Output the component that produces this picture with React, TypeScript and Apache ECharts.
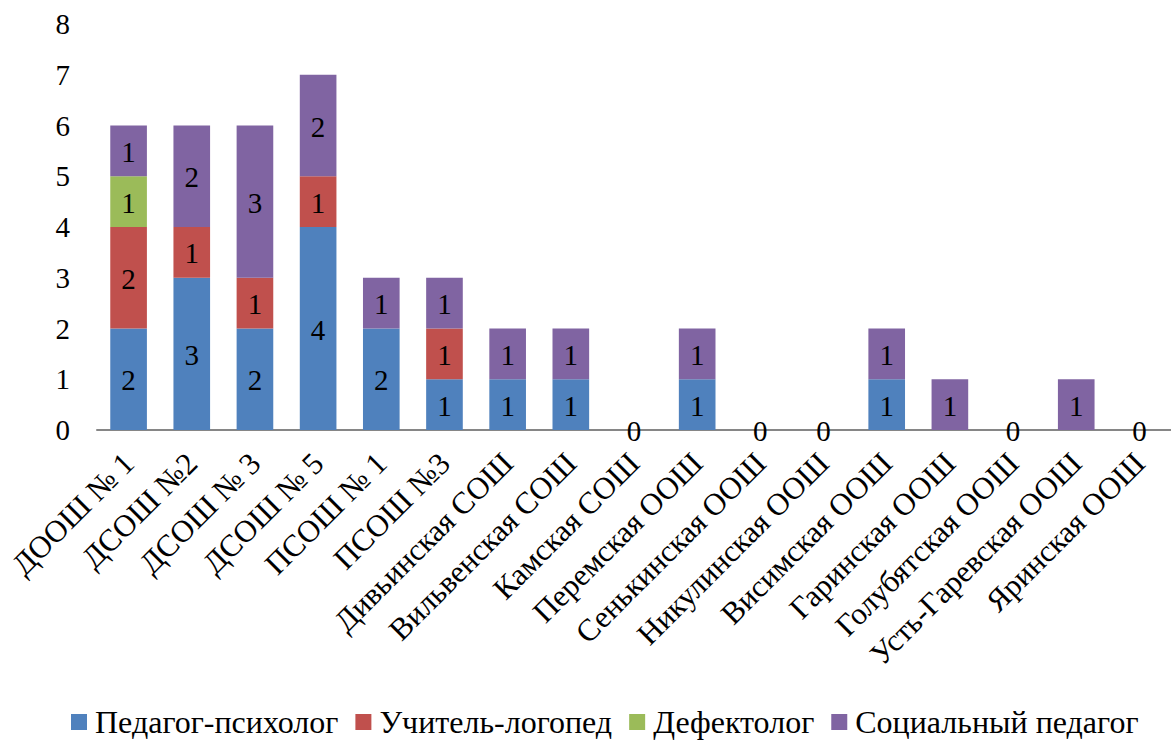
import React, { useEffect, useRef } from "react";
import * as echarts from "echarts";

const categories = [
  "ДООШ № 1",
  "ДСОШ №2",
  "ДСОШ № 3",
  "ДСОШ № 5",
  "ПСОШ № 1",
  "ПСОШ №3",
  "Дивьинская СОШ",
  "Вильвенская СОШ",
  "Камская СОШ",
  "Перемская ООШ",
  "Сенькинская ООШ",
  "Никулинская ООШ",
  "Висимская ООШ",
  "Гаринская ООШ",
  "Голубятская ООШ",
  "Усть-Гаревская ООШ",
  "Яринская ООШ",
];

const psychologist = [2, 3, 2, 4, 2, 1, 1, 1, 0, 1, 0, 0, 1, 0, 0, 0, 0];
const speechTherapist = [2, 1, 1, 1, 0, 1, 0, 0, 0, 0, 0, 0, 0, 0, 0, 0, 0];
const defectologist = [1, 0, 0, 0, 0, 0, 0, 0, 0, 0, 0, 0, 0, 0, 0, 0, 0];
const socialPedagogue = [1, 2, 3, 2, 1, 1, 1, 1, 0, 1, 0, 0, 1, 1, 0, 1, 0];

const seriesNames = ["Педагог-психолог", "Учитель-логопед", "Дефектолог", "Социальный педагог"];
const seriesColors = ["#4F81BD", "#C0504D", "#9BBB59", "#8064A2"];
const yTicks = [0, 1, 2, 3, 4, 5, 6, 7, 8];

const FONT = "Liberation Serif";

export default function App() {
  const ref = useRef<HTMLDivElement>(null);

  useEffect(() => {
    if (!ref.current) return;
    const chart = echarts.init(ref.current, null, { renderer: "svg" });
    const all = [psychologist, speechTherapist, defectologist, socialPedagogue];
    const totals = categories.map((_, i) => all.reduce((s, a) => s + a[i], 0));

    const series = all.map((arr, si) => ({
      name: seriesNames[si],
      type: "bar",
      stack: "total",
      barCategoryGap: "42%",
      itemStyle: { color: seriesColors[si] },
      label: {
        show: true,
        position: "inside",
        color: "#000",
        fontFamily: FONT,
        fontSize: 29,
        offset: [0, 1],
        formatter: (p: any) => {
          if (p.value !== 0) return String(p.value);
          return si === all.length - 1 && totals[p.dataIndex] === 0 ? "0" : "";
        },
      },
      data: arr,
    }));

    chart.setOption({
      animation: false,
      legend: {
        bottom: 3,
        left: 66,
        itemWidth: 16,
        itemHeight: 16,
        itemGap: 17,
        icon: "rect",
        textStyle: { fontFamily: FONT, fontSize: 32, color: "#000", padding: [0, 0, 0, 3] },
        data: seriesNames,
      },
      grid: { left: 97, top: 24, width: 1077, height: 406, containLabel: false },
      xAxis: {
        type: "category",
        data: categories,
        axisLine: { lineStyle: { color: "#868686", width: 2 } },
        axisTick: { show: false },
        axisLabel: {
          rotate: 45,
          interval: 0,
          margin: 28,
          fontFamily: FONT,
          fontSize: 31,
          color: "#000",
        },
      },
      yAxis: {
        type: "value",
        min: yTicks[0],
        max: yTicks[yTicks.length - 1],
        interval: 1,
        axisLine: { show: false },
        axisTick: { show: false },
        splitLine: { show: false },
        axisLabel: { margin: 27, fontFamily: FONT, fontSize: 29, color: "#000" },
      },
      series,
    });
    return () => chart.dispose();
  }, []);

  return <div ref={ref} style={{ width: 1171, height: 746, position: "absolute", left: 0, top: 0 }} />;
}
